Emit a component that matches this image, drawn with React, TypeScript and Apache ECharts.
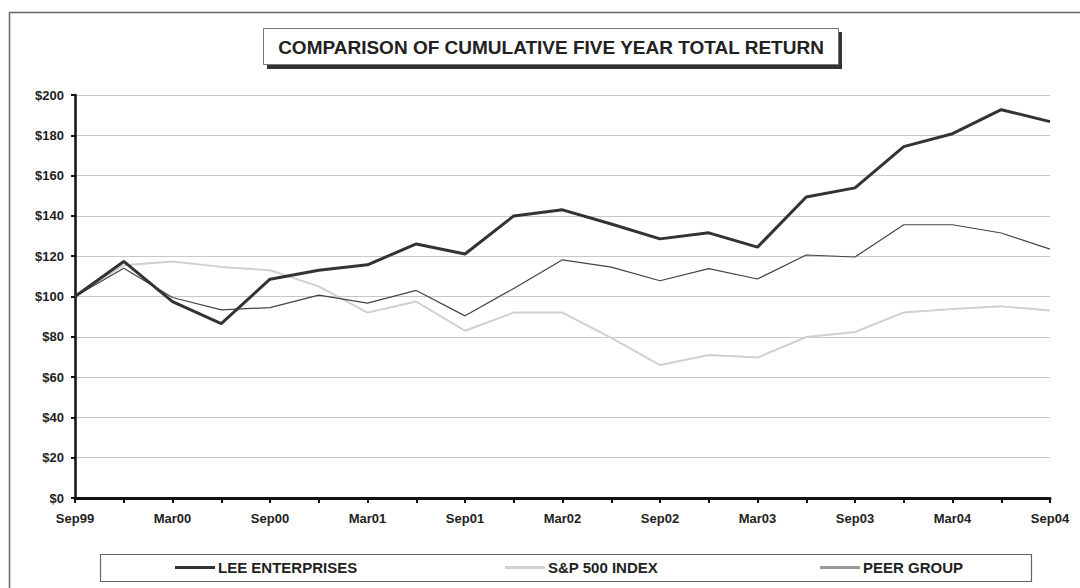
import React, { useEffect, useRef } from "react";
import * as echarts from "echarts";

const categories = [
  "Sep99", "Dec99", "Mar00", "Jun00", "Sep00", "Dec00", "Mar01", "Jun01", "Sep01", "Dec01", "Mar02",
  "Jun02", "Sep02", "Dec02", "Mar03", "Jun03", "Sep03", "Dec03", "Mar04", "Jun04", "Sep04",
];
const leeEnterprises = [100, 117.4, 97.5, 86.5, 108.6, 113, 115.7, 126.1, 121.1, 140, 143, 136, 128.6, 131.6, 124.5, 149.4, 153.9, 174.4, 180.8, 192.7, 186.8];
const sp500 = [100, 115.5, 117.4, 114.7, 113, 105, 92, 97.5, 83, 92, 92, 79.5, 66, 71, 69.7, 79.9, 82.4, 92.1, 93.8, 95.1, 93.1];
const peerGroup = [100, 114, 99.5, 93.4, 94.5, 100.7, 96.7, 103, 90.4, 104, 118.2, 114.6, 107.8, 113.8, 108.7, 120.6, 119.6, 135.6, 135.6, 131.5, 123.5];
const seriesNames = ["LEE ENTERPRISES", "S&P 500 INDEX", "PEER GROUP"];
const titleText = "COMPARISON OF CUMULATIVE FIVE YEAR TOTAL RETURN";

const FONT = "'Liberation Sans', Arial, sans-serif";

const legendColors = ["#333", "#d0d0d0", "#999"];
const legendLefts = [170, 500, 815];

export default function App() {
  const ref = useRef<HTMLDivElement>(null);
  useEffect(() => {
    document.body.style.margin = "0";
    if (!ref.current) return;
    const chart = echarts.init(ref.current, null, { renderer: "svg" });
    chart.setOption({
      animation: false,
      backgroundColor: "#ffffff",
      textStyle: { fontFamily: FONT },
      grid: { left: 75, right: 30, top: 95, bottom: 90, containLabel: false },
      graphic: [
        {
          type: "rect",
          shape: { x: 9.5, y: 12.5, width: 1100, height: 600 },
          style: { fill: "none", stroke: "#666", lineWidth: 1.5 },
          silent: true,
        },
        {
          type: "rect",
          shape: { x: 267, y: 32, width: 575, height: 37 },
          style: { fill: "#333", stroke: "none" },
          silent: true,
        },
        {
          type: "rect",
          shape: { x: 263.5, y: 28.5, width: 575, height: 36 },
          style: { fill: "#fff", stroke: "#777", lineWidth: 1 },
          silent: true,
        },
        {
          type: "text",
          x: 551,
          y: 47,
          style: {
            text: titleText,
            fill: "#222",
            font: `bold 19px ${FONT}`,
            align: "center",
            verticalAlign: "middle",
          },
          silent: true,
        },
        {
          type: "rect",
          shape: { x: 100.5, y: 554.5, width: 931, height: 27 },
          style: { fill: "#fff", stroke: "#666", lineWidth: 1.2 },
          silent: true,
          z: -1,
        },
      ],
      legend: seriesNames.map((name, i) => ({
        data: [{ name, itemStyle: { color: legendColors[i] } }],
        left: legendLefts[i],
        top: 555,
        icon: "rect",
        itemWidth: 40,
        itemHeight: 3,
        textStyle: { fontFamily: FONT, fontWeight: "bold", fontSize: 15, color: "#222", padding: [0, 0, 0, -2] },
        z: 10,
      })),
      xAxis: {
        type: "category",
        data: categories,
        boundaryGap: false,
        axisLine: { lineStyle: { color: "#111", width: 3 } },
        axisTick: { show: true, interval: 0, length: 5, lineStyle: { color: "#111", width: 2 } },
        axisLabel: { interval: 1, color: "#222", fontWeight: "bold", fontSize: 13, fontFamily: FONT, margin: 14 },
        splitLine: { show: false },
      },
      yAxis: {
        type: "value",
        min: 0,
        max: 200,
        interval: 20,
        axisLine: { show: true, lineStyle: { color: "#111", width: 2.5 } },
        axisTick: { show: true, length: 4, lineStyle: { color: "#111", width: 2 } },
        axisLabel: {
          color: "#222",
          fontWeight: "bold",
          fontSize: 13,
          fontFamily: FONT,
          margin: 11,
          formatter: (v: number) => `$${v}`,
        },
        splitLine: { show: true, lineStyle: { color: "#c8c8c8", width: 1 } },
      },
      series: [
        {
          name: seriesNames[0],
          type: "line",
          data: leeEnterprises,
          symbol: "none",
          lineStyle: { color: "#333", width: 3 },
          itemStyle: { color: "#333" },
          z: 4,
        },
        {
          name: seriesNames[1],
          type: "line",
          data: sp500,
          symbol: "none",
          lineStyle: { color: "#d0d0d0", width: 2 },
          itemStyle: { color: "#d0d0d0" },
          z: 2,
        },
        {
          name: seriesNames[2],
          type: "line",
          data: peerGroup,
          symbol: "none",
          lineStyle: { color: "#444", width: 1.2 },
          itemStyle: { color: "#999" },
          z: 3,
        },
      ],
    });
    return () => chart.dispose();
  }, []);
  return <div ref={ref} style={{ width: 1080, height: 588 }} />;
}
